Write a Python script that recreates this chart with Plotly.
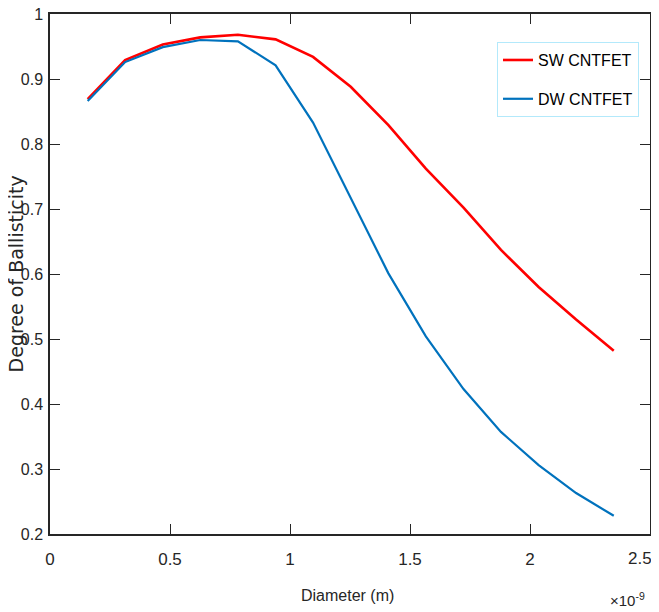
import plotly.graph_objects as go

# Diameter in units of 1e-9 m
diameter = [0.157, 0.313, 0.470, 0.626, 0.783, 0.940, 1.096, 1.253, 1.410, 1.566,
            1.723, 1.879, 2.036, 2.192, 2.349]
sw_cntfet = [0.869, 0.929, 0.953, 0.964, 0.968, 0.961, 0.934, 0.888, 0.829, 0.762,
             0.702, 0.637, 0.580, 0.530, 0.482]
dw_cntfet = [0.866, 0.926, 0.949, 0.960, 0.958, 0.921, 0.833, 0.716, 0.601, 0.504,
             0.423, 0.357, 0.306, 0.263, 0.228]
x_ticks = [0, 0.5, 1, 1.5, 2, 2.5]
x_ticklabels = ["0", "0.5", "1", "1.5", "2", "2.5"]
y_ticks = [0.2, 0.3, 0.4, 0.5, 0.6, 0.7, 0.8, 0.9, 1.0]
y_ticklabels = ["0.2", "0.3", "0.4", "0.5", "0.6", "0.7", "0.8", "0.9", "1"]

SANS = "Liberation Sans, Arial, Helvetica, sans-serif"
AX = "#262626"

fig = go.Figure()
fig.add_trace(go.Scatter(x=diameter, y=sw_cntfet, mode="lines", name="SW CNTFET",
                         legendgroup="sw",
                         line=dict(color="#FF0000", width=2.6)))
fig.add_trace(go.Scatter(x=diameter, y=dw_cntfet, mode="lines", name="DW CNTFET",
                         legendgroup="dw",
                         line=dict(color="#0072BD", width=2.2)))

# the last x tick label sits at the window edge; it is drawn right-aligned below
shown_xticklabels = x_ticklabels[:-1] + [""]

# page body has an 8px margin; figure is sized to fill the rest of the window
fig.update_layout(
    width=651, height=604,
    margin=dict(l=42, r=9, t=6, b=78, autoexpand=False),
    paper_bgcolor="white", plot_bgcolor="white",
    showlegend=True,
    legend=dict(x=0.745, y=0.946, xanchor="left", yanchor="top",
                bgcolor="white", bordercolor="#b3e9fb", borderwidth=1,
                font=dict(family=SANS, size=16, color="black"),
                itemwidth=30, traceorder="grouped", tracegroupgap=15),
    xaxis=dict(range=[0, 2.5], tickvals=x_ticks, ticktext=shown_xticklabels,
               ticks="inside", ticklen=10, tickwidth=1, tickcolor=AX,
               showline=True, linecolor=AX, linewidth=1.5, mirror="ticks",
               showgrid=False, zeroline=False, automargin=False,
               ticklabeloverflow="allow", ticklabelstandoff=9,
               tickfont=dict(family=SANS, size=17, color=AX)),
    yaxis=dict(range=[0.2, 1.0], tickvals=y_ticks, ticktext=y_ticklabels,
               ticks="inside", ticklen=10, tickwidth=1, tickcolor=AX,
               showline=True, linecolor=AX, linewidth=1.5, mirror="ticks",
               showgrid=False, zeroline=False, automargin=False,
               ticklabeloverflow="allow", ticklabelstandoff=2,
               tickfont=dict(family=SANS, size=16, color=AX)),
)

fig.add_annotation(x=x_ticks[-1], y=-0.048, xref="x", yref="paper",
                   xanchor="right", yanchor="middle", xshift=4, showarrow=False,
                   text=x_ticklabels[-1],
                   font=dict(family=SANS, size=17, color=AX))

# axis titles
fig.add_annotation(x=0.495, y=-0.118, xref="paper", yref="paper",
                   xanchor="center", yanchor="middle", showarrow=False,
                   text="Diameter (m)",
                   font=dict(family=SANS, size=16, color=AX))
fig.add_annotation(x=-0.056, y=0.50, xref="paper", yref="paper",
                   xanchor="center", yanchor="middle", showarrow=False,
                   textangle=-90, text="Degree of Ballisticity",
                   font=dict(family="DejaVu Sans, Arial, sans-serif", size=19, color=AX))
fig.add_annotation(x=0.995, y=-0.125, xref="paper", yref="paper",
                   xanchor="right", yanchor="middle", showarrow=False,
                   text="×10<sup>-9</sup>",
                   font=dict(family=SANS, size=15, color=AX))

fig.write_html("out.html")
